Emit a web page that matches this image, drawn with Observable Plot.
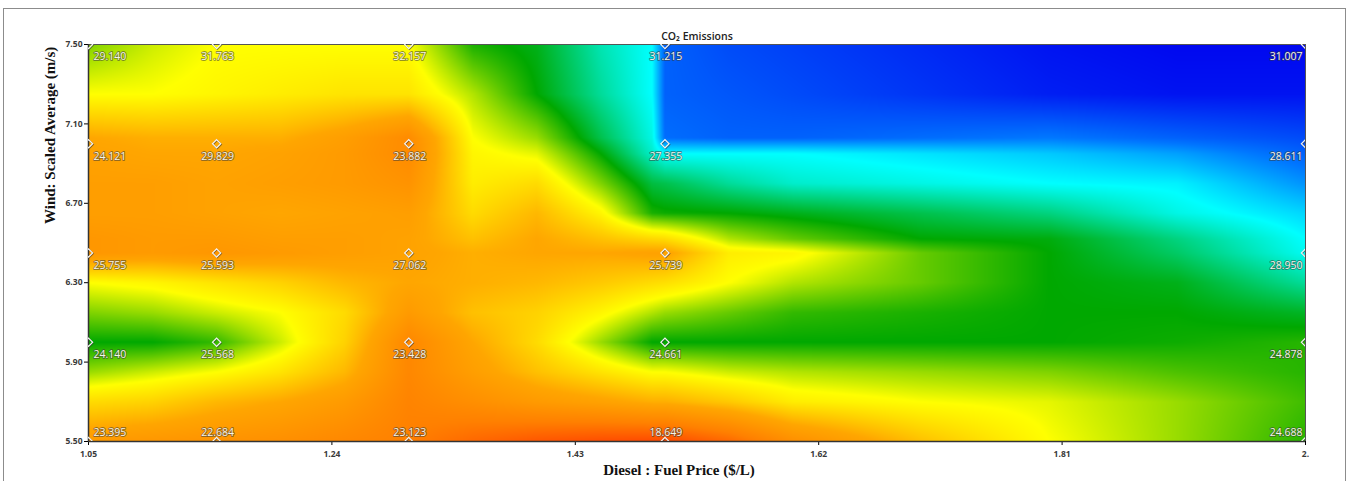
<!DOCTYPE html>
<html>
<head>
<meta charset="utf-8">
<script src="https://cdn.jsdelivr.net/npm/d3@7"></script>
<script src="https://cdn.jsdelivr.net/npm/@observablehq/plot@0.6"></script>
<style>
  body { margin: 0; background: #fff; }
  #wrap { position: relative; width: 1351px; height: 481px; overflow: hidden; }
  #border { position: absolute; left: 3px; top: 8px; width: 1343px; height: 490px; border: 1px solid #8c8c8c; box-sizing: border-box; }
  #chart { position: absolute; left: 0; top: 0; }
</style>
</head>
<body>
<div id="wrap"><div id="border"></div><div id="chart"></div></div>
<script>
// ---- Data: design points (Diesel fuel price, scaled average wind) and CO2 emissions ----
const priceX = [1.05, 1.15, 1.30, 1.50, 2.00];
const windY = [7.50, 7.00, 6.45, 6.00, 5.50];
const co2 = [
  [29.140, 31.763, 32.157, 31.215, 31.007],
  [24.121, 29.829, 23.882, 27.355, 28.611],
  [25.755, 25.593, 27.062, 25.739, 28.950],
  [24.140, 25.568, 23.428, 24.661, 24.878],
  [23.395, 22.684, 23.123, 18.649, 24.688]
];

// ---- Colour-field levels (0 = red/orange ... 6 = blue) ----
const shadeX = [1.05, 1.10, 1.15, 1.20, 1.25, 1.30, 1.35, 1.40, 1.45, 1.49, 1.50, 1.55, 1.60, 1.70, 1.80, 1.90, 2.00];
const shadeY = [7.50, 7.25, 7.03, 6.95, 6.80, 6.65, 6.52, 6.45, 6.30, 6.15, 6.00, 5.85, 5.70, 5.50];
const shadeLevels = [
  [3.5,3.2,3.0,3.0,3.0,3.0,3.9,4.1,4.7,5.0,5.6,5.7,5.75,5.85,5.95,6.0,6.0],
  [3.0,3.0,2.9,2.8,2.7,2.7,3.3,4.0,4.6,5.0,5.6,5.65,5.7,5.8,5.9,5.95,5.95],
  [2.0,2.1,2.1,2.1,1.8,1.3,3.0,3.4,4.3,4.9,5.55,5.6,5.6,5.55,5.5,5.6,5.7],
  [1.9,2.0,2.0,1.9,1.7,1.3,2.9,3.1,4.0,4.8,5.0,5.0,5.0,5.1,5.2,5.35,5.6],
  [1.8,1.8,1.9,1.8,1.7,1.5,2.8,2.6,3.5,4.25,4.3,4.6,4.8,4.9,5.0,5.05,5.4],
  [1.8,1.8,1.9,2.0,1.9,1.8,2.6,2.2,2.9,3.9,3.95,4.0,4.1,4.3,4.5,4.9,5.15],
  [1.6,1.7,1.7,1.8,1.8,1.9,2.3,2.0,2.3,2.55,2.6,3.3,3.6,4.0,4.05,4.5,5.0],
  [1.6,1.7,1.6,1.7,1.8,1.9,2.1,2.0,2.0,1.9,1.9,2.8,2.9,3.6,4.0,4.4,4.95],
  [3.0,2.9,2.7,2.5,2.2,2.0,2.1,2.2,2.4,2.6,2.65,3.0,3.3,3.6,4.0,4.1,4.6],
  [3.5,3.4,3.2,3.0,2.6,1.7,2.3,2.5,2.9,3.3,3.4,3.6,3.8,3.9,4.0,4.0,4.15],
  [4.0,4.0,3.8,3.2,2.5,1.2,2.0,2.6,3.4,4.0,4.0,4.0,4.0,4.0,4.0,3.95,3.85],
  [3.4,3.2,3.0,2.7,2.2,1.2,1.8,2.3,2.7,3.0,3.0,3.2,3.3,3.4,3.5,3.7,3.85],
  [2.6,2.5,2.2,2.0,1.7,1.1,1.4,1.7,1.9,2.1,2.1,2.4,2.8,3.0,3.1,3.4,3.75],
  [1.7,1.6,1.5,1.4,1.2,1.0,0.6,0.3,0.15,0.1,0.1,0.6,1.4,2.3,3.0,3.4,3.85]
];
const levelStops = [0, 1, 2, 3, 4, 5, 5.5, 6];
const levelColors = ["#ff4400", "#ff8000", "#ffa600", "#ffff00", "#00a800", "#00ffff", "#0078ff", "#0008f0"];

// ---- Ticks / text ----
const xTicks = [1.05, 1.24, 1.43, 1.62, 1.81, 2.00];
const xTickLabels = ["1.05", "1.24", "1.43", "1.62", "1.81", "2."];
const yTicks = [5.50, 5.90, 6.30, 6.70, 7.10, 7.50];
const yTickLabels = ["5.50", "5.90", "6.30", "6.70", "7.10", "7.50"];
const titleText = "CO\u2082 Emissions";
const xLabel = "Diesel : Fuel Price ($/L)";
const yLabel = "Wind: Scaled Average (m/s)";

// bilinear sampling of the read colour-level grid
const yAsc = shadeY.slice().reverse();
const levAsc = shadeLevels.slice().reverse();
function shade(x, y) {
  let i = Math.max(0, Math.min(shadeX.length - 2, d3.bisectRight(shadeX, x) - 1));
  let j = Math.max(0, Math.min(yAsc.length - 2, d3.bisectRight(yAsc, y) - 1));
  let tx = Math.max(0, Math.min(1, (x - shadeX[i]) / (shadeX[i + 1] - shadeX[i])));
  let ty = Math.max(0, Math.min(1, (y - yAsc[j]) / (yAsc[j + 1] - yAsc[j])));
  const a = levAsc[j][i], b = levAsc[j][i + 1], c = levAsc[j + 1][i], d = levAsc[j + 1][i + 1];
  return (a * (1 - tx) + b * tx) * (1 - ty) + (c * (1 - tx) + d * tx) * ty;
}

const points = [];
windY.forEach((w, r) => priceX.forEach((p, c) => points.push({price: p, wind: w, value: co2[r][c], col: c, row: r})));
const lastCol = priceX.length - 1, lastRow = windY.length - 1;

function labelMark(filterFn, anchor, dx, dy) {
  return Plot.text(points.filter(filterFn), {
    x: "price", y: "wind", text: d => d.value.toFixed(3),
    textAnchor: anchor, dx, dy, fontSize: 10.5, fontFamily: "Open Sans, sans-serif",
    fill: "#f6f4e8", stroke: "#3a3a3a", strokeWidth: 1.8, strokeOpacity: 0.55
  });
}

const chart = Plot.plot({
  width: 1351, height: 481,
  marginLeft: 88, marginRight: 46, marginTop: 44, marginBottom: 40,
  style: {background: "transparent", fontFamily: "Open Sans, sans-serif", overflow: "visible"},
  x: {domain: [1.05, 2.00], label: null},
  y: {domain: [5.50, 7.50], label: null},
  color: {type: "linear", domain: levelStops, range: levelColors, interpolate: "rgb"},
  marks: [
    Plot.raster({fill: shade, x1: 1.05, x2: 2.00, y1: 5.50, y2: 7.50, pixelSize: 1}),
    Plot.frame({stroke: "#555", strokeWidth: 1}),
    Plot.axisX({ticks: xTicks, tickFormat: d => xTickLabels[xTicks.indexOf(d)], tickSize: 4, tickPadding: 5,
      fontSize: 8.5, fontWeight: "bold", fill: "#3a3a3a", label: null}),
    Plot.axisY({ticks: yTicks, tickFormat: d => yTickLabels[yTicks.indexOf(d)], tickSize: 4, tickPadding: 2,
      fontSize: 8.5, fontWeight: "bold", fill: "#3a3a3a", label: null}),
    Plot.ruleY([5.50], {stroke: "#333", strokeWidth: 1.5}),
    Plot.ruleX([1.05], {stroke: "#333", strokeWidth: 1.5}),
    // design-point diamonds (shadow + outline)
    Plot.dot(points, {x: "price", y: "wind", symbol: "square", rotate: 45, r: 3.3, dx: 0.7, dy: 0.7,
      stroke: "#333", strokeOpacity: 0.6, strokeWidth: 1.2, fill: "none", clip: true}),
    Plot.dot(points, {x: "price", y: "wind", symbol: "square", rotate: 45, r: 3.3,
      stroke: "#f2f2f2", strokeWidth: 1.2, fill: "none", clip: true}),
    // value labels
    labelMark(d => d.row < lastRow && d.col === 0, "start", 5, 12.5),
    labelMark(d => d.row < lastRow && d.col > 0 && d.col < lastCol, "middle", 1, 12.5),
    labelMark(d => d.row < lastRow && d.col === lastCol, "end", -3, 12.5),
    labelMark(d => d.row === lastRow && d.col === 0, "start", 5, -9),
    labelMark(d => d.row === lastRow && d.col > 0 && d.col < lastCol, "middle", 1, -9),
    labelMark(d => d.row === lastRow && d.col === lastCol, "end", -3, -9),
    // title and axis labels
    Plot.text([titleText], {frameAnchor: "top", dy: -12, fontSize: 10.5, fontWeight: 600, fill: "#222", fontFamily: "Open Sans, sans-serif"}),
    Plot.text([xLabel], {frameAnchor: "bottom", dy: 33, dx: -18, fontSize: 15, fontWeight: "bold", fill: "#111",
      fontFamily: "Liberation Serif, Times New Roman, serif"}),
    Plot.text([yLabel], {frameAnchor: "left", dx: -38, dy: -19, rotate: -90, fontSize: 15, fontWeight: "bold", fill: "#111",
      fontFamily: "Liberation Serif, Times New Roman, serif"})
  ]
});
document.getElementById("chart").appendChild(chart);
</script>
</body>
</html>
